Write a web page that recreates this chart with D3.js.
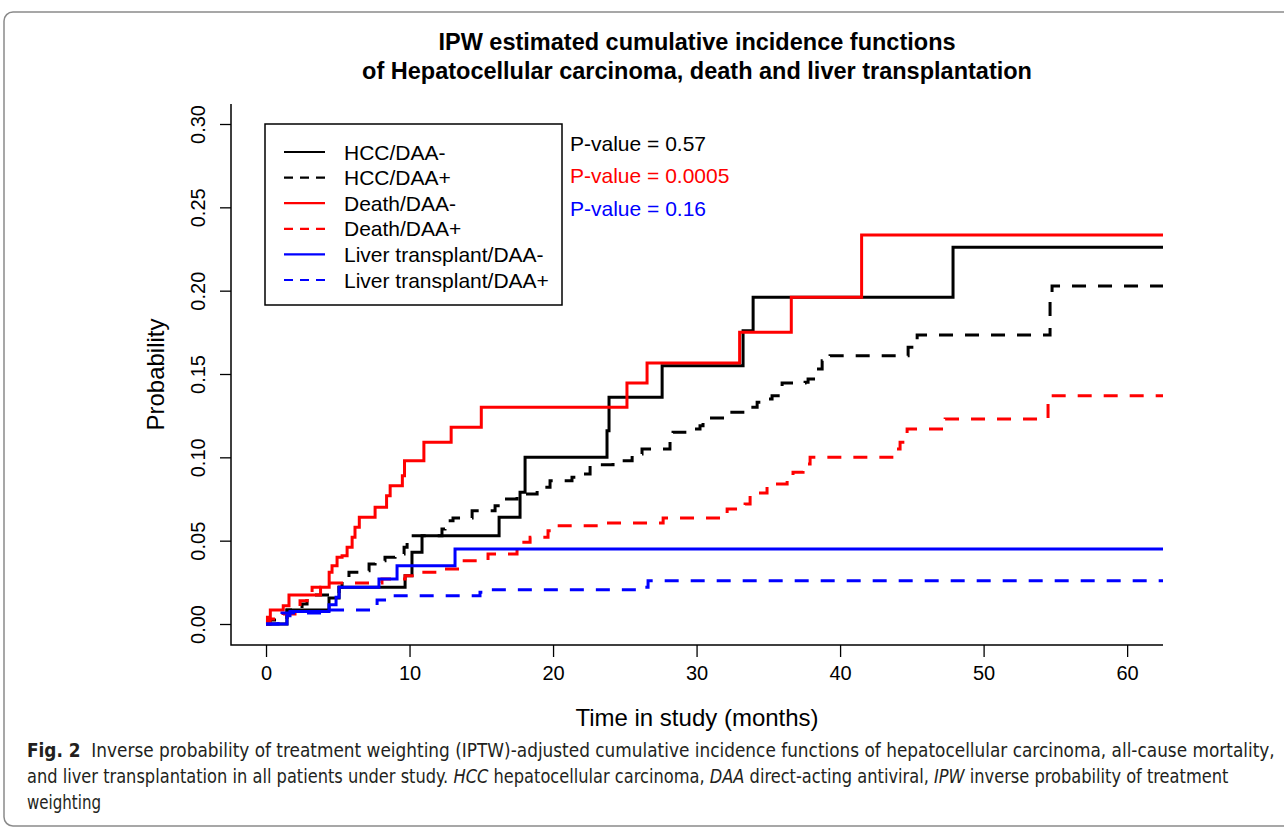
<!DOCTYPE html>
<html><head><meta charset="utf-8">
<script src="https://cdn.jsdelivr.net/npm/d3@7"></script>
<style>
html,body{margin:0;padding:0;background:#fff;}
svg{display:block;}
</style></head>
<body>
<svg id="chart" width="1284" height="829"></svg>
<script>
// ---------- data (months, cumulative incidence) ----------
const hccMinusT = [0, 1.46, 4.39, 5.09, 9.69, 10.17, 10.87, 16.24, 17.70, 18.05, 23.76, 23.90, 27.60, 33.24, 33.94, 47.87];
const hccMinusV = [0, 0.0084, 0.0156, 0.022, 0.029, 0.043, 0.053, 0.064, 0.079, 0.100, 0.116, 0.136, 0.155, 0.176, 0.196, 0.226];

const hccPlusT = [0, 0.28, 1.46, 2.51, 2.86, 5.09, 5.30, 5.78, 6.48, 7.18, 7.60, 8.29, 8.99, 9.62, 9.83, 12.26, 12.47, 13.03, 14.36, 15.96, 16.31, 17.49, 18.05, 18.89, 19.79, 21.32, 22.02, 22.58, 24.18, 24.81, 25.51, 26.20, 28.15, 28.36, 29.41, 30.24, 30.45, 32.13, 33.59, 34.22, 34.98, 35.26, 35.96, 37.56, 37.77, 38.26, 38.75, 39.30, 44.74, 45.37, 54.63, 54.77];
const hccPlusV = [0, 0.0024, 0.0084, 0.012, 0.0174, 0.022, 0.026, 0.031, 0.032, 0.036, 0.038, 0.040, 0.042, 0.046, 0.053, 0.057, 0.062, 0.0636, 0.068, 0.071, 0.075, 0.077, 0.078, 0.082, 0.086, 0.088, 0.090, 0.0955, 0.097, 0.098, 0.102, 0.105, 0.110, 0.115, 0.117, 0.119, 0.1236, 0.127, 0.130, 0.133, 0.135, 0.137, 0.1446, 0.145, 0.147, 0.153, 0.158, 0.161, 0.166, 0.1734, 0.197, 0.2028];

const deathMinusT = [0, 0.1, 0.3, 1.2, 1.6, 3.8, 4.4, 4.6, 4.95, 5.3, 5.65, 6.0, 6.2, 6.5, 7.6, 8.4, 8.65, 9.5, 9.65, 11.0, 12.9, 15.0, 25.15, 26.55, 33.0, 36.6, 41.5];
const deathMinusV = [0, 0.004, 0.0084, 0.011, 0.0174, 0.022, 0.031, 0.035, 0.040, 0.041, 0.046, 0.052, 0.058, 0.064, 0.070, 0.077, 0.083, 0.089, 0.098, 0.109, 0.118, 0.130, 0.1446, 0.1566, 0.175, 0.196, 0.2334];

const deathPlusT = [0, 0.28, 1.18, 2.02, 2.37, 2.86, 3.21, 3.90, 8.08, 9.69, 10.38, 12.13, 13.52, 15.47, 17.49, 18.40, 19.65, 20.00, 23.14, 27.67, 31.78, 32.13, 33.38, 33.73, 34.91, 36.31, 36.72, 37.42, 37.91, 43.83, 44.18, 44.67, 47.32, 54.49];
const deathPlusV = [0, 0.003, 0.006, 0.010, 0.014, 0.018, 0.022, 0.0246, 0.027, 0.029, 0.031, 0.033, 0.038, 0.042, 0.049, 0.052, 0.056, 0.059, 0.0606, 0.0636, 0.066, 0.069, 0.072, 0.0786, 0.084, 0.088, 0.091, 0.096, 0.100, 0.105, 0.109, 0.117, 0.123, 0.137];

const ltMinusT = [0, 1.46, 1.67, 4.39, 4.88, 5.09, 7.87, 9.13, 13.17];
const ltMinusV = [0, 0.005, 0.0075, 0.0115, 0.016, 0.022, 0.027, 0.035, 0.045];

const ltPlusT = [0, 0.84, 1.11, 4.46, 7.74, 8.85, 14.91, 15.26, 26.27, 26.62];
const ltPlusV = [0, 0.004, 0.0066, 0.0084, 0.0144, 0.017, 0.019, 0.0205, 0.022, 0.026];

const seriesNames = ["HCC/DAA-", "HCC/DAA+", "Death/DAA-", "Death/DAA+", "Liver transplant/DAA-", "Liver transplant/DAA+"];
const seriesColors = ["#000000", "#000000", "#ff0000", "#ff0000", "#0000ff", "#0000ff"];
const seriesDashed = [false, true, false, true, false, true];
const seriesT = [hccMinusT, hccPlusT, deathMinusT, deathPlusT, ltMinusT, ltPlusT];
const seriesV = [hccMinusV, hccPlusV, deathMinusV, deathPlusV, ltMinusV, ltPlusV];

const pValueLabels = ["P-value = 0.57", "P-value = 0.0005", "P-value = 0.16"];
const pValueColors = ["#000000", "#ff0000", "#0000ff"];

const xTicks = [0, 10, 20, 30, 40, 50, 60];
const yTicks = [0, 0.05, 0.10, 0.15, 0.20, 0.25, 0.30];

const titleLines = ["IPW estimated cumulative incidence functions", "of Hepatocellular carcinoma, death and liver transplantation"];
const xTitle = "Time in study (months)";
const yTitle = "Probability";

// ---------- drawing ----------
(function () {
const svg = d3.select("#chart");
const font = "'Liberation Sans', Arial, Helvetica, sans-serif";

// outer frame
svg.append("rect").attr("x", 4).attr("y", 12).attr("width", 1320).attr("height", 814)
  .attr("rx", 9).attr("fill", "none").attr("stroke", "#8a8a8a").attr("stroke-width", 1.5);

const pL = 231, pR = 1163, pT = 104, pB = 645;
const xMax = 62.5;
const x = d3.scaleLinear().domain([-2.44, xMax]).range([pL, pR]);
const y = d3.scaleLinear().domain([-0.0126, 0.312]).range([pB, pT]);

// title
svg.append("g").selectAll("text").data(titleLines).join("text")
  .attr("x", (pL + pR) / 2).attr("y", (d, i) => 50 + i * 28.5)
  .attr("text-anchor", "middle").attr("font-family", font).attr("font-weight", "bold")
  .attr("font-size", 23.5).attr("fill", "#000").text(d => d);

// clip
svg.append("clipPath").attr("id", "clip").append("rect")
  .attr("x", pL).attr("y", pT).attr("width", pR - pL).attr("height", pB - pT);

// curves
const line = d3.line().x(d => x(d[0])).y(d => y(d[1])).curve(d3.curveStepAfter);
const curves = svg.append("g").attr("clip-path", "url(#clip)");
seriesT.forEach((ts, i) => {
  const pts = ts.map((t, j) => [t, seriesV[i][j]]);
  pts.push([xMax + 1, seriesV[i][seriesV[i].length - 1]]);
  curves.append("path").datum(pts).attr("d", line)
    .attr("fill", "none").attr("stroke", seriesColors[i]).attr("stroke-width", 3)
    .attr("stroke-dasharray", seriesDashed[i] ? "14,12" : null);
});

// axes
const xAxis = d3.axisBottom(x).tickValues(xTicks).tickSize(12).tickFormat(d3.format("d"));
const gx = svg.append("g").attr("transform", `translate(0,${pB})`).call(xAxis);
gx.select(".domain").remove();
gx.selectAll(".tick line").attr("stroke", "#000").attr("stroke-width", 1.3);
gx.selectAll(".tick text").attr("font-family", font).attr("font-size", 20).attr("fill", "#000")
  .attr("y", 28).attr("dy", null).attr("dominant-baseline", "central");

const yAxis = d3.axisLeft(y).tickValues(yTicks).tickSize(11).tickFormat(d3.format(".2f"));
const gy = svg.append("g").attr("transform", `translate(${pL},0)`).call(yAxis);
gy.select(".domain").remove();
gy.selectAll(".tick line").attr("stroke", "#000").attr("stroke-width", 1.3);
gy.selectAll(".tick text").attr("font-family", font).attr("font-size", 20).attr("fill", "#000")
  .attr("x", null).attr("dy", null).attr("text-anchor", "middle").attr("dominant-baseline", "central")
  .attr("transform", "translate(-33,0) rotate(-90)");

// L-shaped box
svg.append("path").attr("d", `M${pL},${pT}V${pB}H${pR}`)
  .attr("fill", "none").attr("stroke", "#000").attr("stroke-width", 1.5);

// axis titles
svg.append("text").attr("x", (pL + pR) / 2).attr("y", 726).attr("text-anchor", "middle")
  .attr("font-family", font).attr("font-size", 24).attr("fill", "#000").text(xTitle);
svg.append("text").attr("transform", `translate(164,${(pT + pB) / 2}) rotate(-90)`)
  .attr("text-anchor", "middle").attr("font-family", font).attr("font-size", 24).attr("fill", "#000").text(yTitle);

// legend
const lg = svg.append("g");
lg.append("rect").attr("x", 265).attr("y", 124).attr("width", 297).attr("height", 181)
  .attr("fill", "#fff").attr("stroke", "#000").attr("stroke-width", 1.5);
seriesNames.forEach((n, i) => {
  const cy = 152 + i * 25.6;
  lg.append("line").attr("x1", 284).attr("x2", 325).attr("y1", cy).attr("y2", cy)
    .attr("stroke", seriesColors[i]).attr("stroke-width", 2.2)
    .attr("stroke-dasharray", seriesDashed[i] ? "9,7" : null);
  lg.append("text").attr("x", 344).attr("y", cy + 7.5).attr("font-family", font)
    .attr("font-size", 21).attr("fill", "#000").text(n);
});

// p-values
svg.append("g").selectAll("text").data(pValueLabels).join("text")
  .attr("x", 570).attr("y", (d, i) => 143 + i * 32.5 + 7.5)
  .attr("font-family", font).attr("font-size", 21).attr("fill", (d, i) => pValueColors[i]).text(d => d);

// caption
const capFont = "'Liberation Sans Narrow', 'DejaVu Sans Condensed', 'Open Sans', sans-serif";
const capLines = [
  {w: 1248, parts: [["Fig. 2", "bold", "normal"], ["  Inverse probability of treatment weighting (IPTW)-adjusted cumulative incidence functions of hepatocellular carcinoma, all-cause mortality,", "normal", "normal"]]},
  {w: 1202, parts: [["and liver transplantation in all patients under study. ", "normal", "normal"], ["HCC", "normal", "italic"], [" hepatocellular carcinoma, ", "normal", "normal"], ["DAA", "normal", "italic"], [" direct-acting antiviral, ", "normal", "normal"], ["IPW", "normal", "italic"], [" inverse probability of treatment", "normal", "normal"]]},
  {w: 74, parts: [["weighting", "normal", "normal"]]}
];
capLines.forEach((ln, i) => {
  const g = svg.append("g");
  const t = g.append("text").attr("x", 0).attr("y", 0).attr("font-family", capFont)
    .attr("font-size", 19.5).attr("fill", "#231f20").style("white-space", "pre");
  ln.parts.forEach(p => t.append("tspan").attr("font-weight", p[1]).attr("font-style", p[2]).text(p[0]));
  const w = t.node().getComputedTextLength();
  const sx = ln.w / w;
  g.attr("transform", `translate(27,${757 + i * 26}) scale(${sx},1)`);
});
})();
</script>
</body></html>
